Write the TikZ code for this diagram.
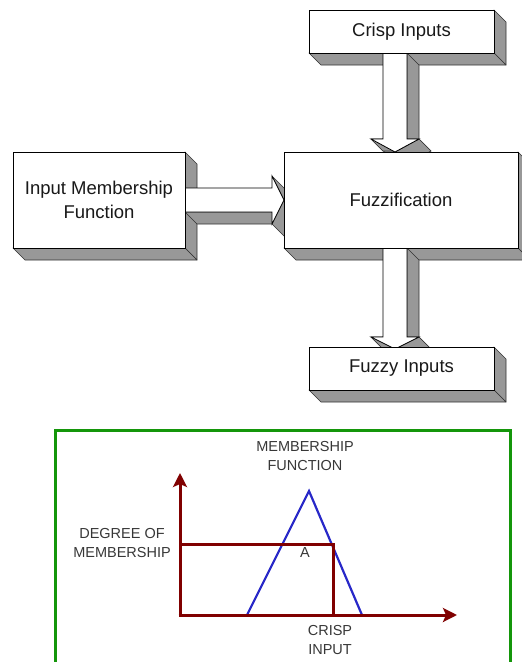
\documentclass[tikz,border=0pt]{standalone}
\usepackage{fontspec}
\setmainfont{Liberation Sans}
\usetikzlibrary{arrows.meta}
\definecolor{sidegray}{RGB}{152,152,152}
\definecolor{edgegray}{RGB}{50,50,50}
\definecolor{axisred}{RGB}{128,0,0}
\definecolor{framegreen}{RGB}{20,150,10}
\definecolor{triblue}{RGB}{40,40,200}
\definecolor{labelgray}{RGB}{55,55,55}
\newcommand\boxsides[4]{%
  \filldraw[sideface] (#3,#2) -- ({#3+12},{#2+12}) -- ({#3+12},{#4+12}) -- (#3,#4) -- cycle;
  \filldraw[sideface] (#1,#4) -- (#3,#4) -- ({#3+12},{#4+12}) -- ({#1+12},{#4+12}) -- cycle;}
\newcommand\boxfront[4]{\filldraw[frontface] (#1,#2) rectangle (#3,#4);}
\newcommand\sideq[4]{\filldraw[sideface] (#1,#2) -- (#3,#4) -- ({#3+12},{#4+12}) -- ({#1+12},{#2+12}) -- cycle;}
\begin{document}
\begin{tikzpicture}[x=1pt,y=-1pt,
  sideface/.style={fill=sidegray,draw=edgegray,line width=0.6pt,line join=round},
  frontface/.style={fill=white,draw=black,line width=0.8pt,line join=miter},
  boxtext/.style={font=\fontsize{18.5}{24}\selectfont,text=black!90,align=center,inner sep=0pt},
  smalltext/.style={font=\fontsize{14.5}{19}\selectfont,text=labelgray,align=center,inner sep=0pt},
  axisline/.style={draw=axisred,line width=3pt},
  axisarrow/.style={axisline,-{Stealth[length=14pt,width=14pt,inset=3pt]}},
  frame/.style={draw=framegreen,line width=3pt}]
\useasboundingbox (0,0) rectangle (522,662);
\clip (0,0) rectangle (522,662);

% ---- Crisp Inputs and its arrow
\boxsides{309}{10}{494}{53}
\sideq{407}{53}{407}{139}
\sideq{407}{139}{419}{139}
\sideq{419}{139}{395}{152}
\sideq{371}{139}{395}{152}
\sideq{371}{139}{383}{139}
\filldraw[frontface] (383,53) -- (383,139) -- (371,139) -- (395,152) -- (419,139) -- (407,139) -- (407,53) -- cycle;
\boxfront{309}{10}{494}{53}
\node[boxtext] (crisp) at (401.5,32) {Crisp Inputs};

% ---- Input Membership Function and its arrow
\boxsides{13}{152}{185}{248}
\sideq{185}{212}{272}{212}
\sideq{272}{176}{284}{200}
\sideq{284}{200}{272}{224}
\filldraw[frontface] (185,188) -- (272,188) -- (272,176) -- (284,200) -- (272,224) -- (272,212) -- (185,212) -- cycle;
\boxfront{13}{152}{185}{248}
\node[boxtext] (imf) at (99,200) {Input Membership\\Function};

% ---- Fuzzification and its arrow
\boxsides{284}{152}{518}{248}
\sideq{407}{248}{407}{337}
\sideq{407}{337}{419}{337}
\sideq{419}{337}{395}{349}
\sideq{371}{337}{395}{349}
\sideq{371}{337}{383}{337}
\filldraw[frontface] (383,248) -- (383,337) -- (371,337) -- (395,349) -- (419,337) -- (407,337) -- (407,248) -- cycle;
\boxfront{284}{152}{518}{248}
\node[boxtext] (fuzz) at (401,200) {Fuzzification};

% ---- Fuzzy Inputs
\boxsides{309}{347}{494}{390}
\boxfront{309}{347}{494}{390}
\node[boxtext] (fuzzy) at (401.5,368.5) {Fuzzy Inputs};

% ---- membership function graph
\draw[frame] (55,430) rectangle (510,700);
\coordinate (O) at (180,615);
\coordinate (ytip) at (180,473);
\coordinate (xtip) at (457,615);
\coordinate (tl) at (247,615);
\coordinate (tt) at (309,491);
\coordinate (tr) at (362,615);
\coordinate (dm) at (180,544);
\coordinate (ca) at (333,544);
\coordinate (cb) at (333,615);
\draw[triblue,line width=2.2pt,line join=miter] (tl) -- (tt) -- (tr);
\draw[axisline] (dm) -- (ca) -- (cb);
\draw[axisarrow] (O) -- (ytip);
\draw[axisarrow] ([xshift=-1.5pt]O) -- (xtip);
\node[smalltext] (mf) at (305,456) {MEMBERSHIP\\FUNCTION};
\node[smalltext] (dom) at (122,543) {DEGREE OF\\MEMBERSHIP};
\node[smalltext] (A) at (305,553) {A};
\node[smalltext] (ci) at (330,640) {CRISP\\INPUT};
\end{tikzpicture}
\end{document}
